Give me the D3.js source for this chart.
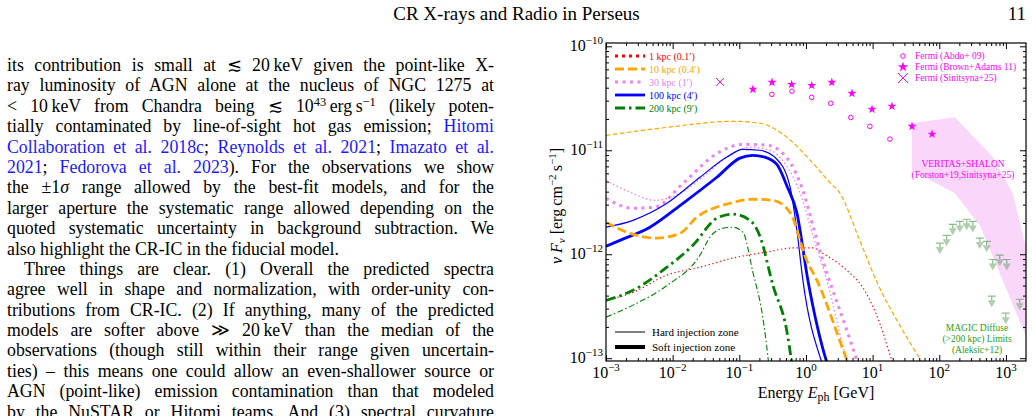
<!DOCTYPE html>
<html>
<head>
<meta charset="utf-8">
<script src="https://cdn.jsdelivr.net/npm/d3@7/dist/d3.min.js"></script>
<style>
  body { margin: 0; background: #fff; }
  #page { position: relative; width: 1033px; height: 416px; overflow: hidden; font-family: "Liberation Serif", "Times New Roman", serif; color: #000; }
  #header { position: absolute; left: 0; top: 3px; width: 1033px; text-align: center; font-size: 19px; line-height: 22px; }
  #pageno { position: absolute; right: 7px; top: 3px; font-size: 19px; line-height: 22px; }
  #col { position: absolute; left: 7px; top: 55px; width: 487px; font-size: 17.8px; line-height: 20.4px; }
  .ln { white-space: nowrap; height: 20.4px; }
  .cite { color: #1a1aff; }
  sup { font-size: 70%; line-height: 0; vertical-align: 0; position: relative; top: -0.5em; }
  svg { position: absolute; left: 0; top: 0; }
</style>
</head>
<body>
<div id="page"></div>
<script>
// values: energy [GeV], nu F_nu [erg cm^-2 s^-1]
const kpc1 = [[1e-3,3.6e-13],[2.54e-3,4.3e-13],[8.2e-3,6.3e-13],[0.0257,7.5e-13],[0.08,9.2e-13],[0.26,1.05e-12],[0.64,1.15e-12],[1.27,1.15e-12],[1.79,1.02e-12],[4.1,7.0e-13],[7.1,4.8e-13],[12.8,2.17e-13],[19.4,9.5e-14],[22,7.5e-14]];
const kpc10Hard = [[1e-3,1.39e-11],[8.2e-3,1.66e-11],[0.08,1.9e-11],[0.204,1.82e-11],[0.52,1.33e-11],[1.27,7.5e-12],[2.28,4.9e-12],[3.2,3.9e-12],[6.4,1.36e-12],[12,5.15e-13],[25.6,2.07e-13],[55,9.3e-14],[65,8e-14]];
const kpc10Soft = [[1e-3,2.03e-12],[2.29e-3,1.59e-12],[5.8e-3,1.43e-12],[0.0129,1.59e-12],[0.0231,2.27e-12],[0.072,3.09e-12],[0.16,3.38e-12],[0.32,3.3e-12],[0.575,2.53e-12],[1.03,8.7e-13],[1.46,5.6e-13],[4.25,9.1e-14],[4.6,8e-14]];
const kpc30Hard = [[1e-3,5.15e-12],[2.29e-3,3.95e-12],[5.4e-3,3.3e-12],[0.0129,3.86e-12],[0.0305,5.75e-12],[0.072,8.95e-12],[0.144,1.07e-11],[0.29,1.0e-11],[0.48,7.5e-12],[0.84,3.7e-12],[1.27,1.52e-12],[2.06,5.6e-13],[4.25,9.1e-14],[4.6,8e-14]];
const kpc30Soft = [[1e-3,3.46e-12],[2.54e-3,2.77e-12],[5.4e-3,2.83e-12],[0.0143,4.8e-12],[0.046,9.3e-12],[0.113,1.14e-11],[0.26,1.12e-11],[0.52,8.4e-12],[0.9,4.1e-12],[1.27,1.9e-12],[1.79,8.7e-13],[2.44,4.8e-13],[4.1,1.86e-13],[5.8,9.5e-14],[6.3,8e-14]];
const kpc100Hard = [[1e-3,1.82e-12],[2.54e-3,2.12e-12],[8.2e-3,3.09e-12],[0.0257,5.5e-12],[0.065,8.6e-12],[0.113,1.02e-11],[0.2,1.0e-11],[0.366,8.2e-12],[0.575,4.5e-12],[0.73,1.7e-12],[0.9,5.6e-13],[1.73,9.1e-14],[1.85,8e-14]];
const kpc100Soft = [[1e-3,1.19e-12],[1.62e-3,1.36e-12],[4.57e-3,1.82e-12],[0.0143,3.09e-12],[0.046,5.5e-12],[0.102,8.4e-12],[0.16,8.95e-12],[0.24,8.6e-12],[0.366,7.3e-12],[0.52,4.5e-12],[0.73,2.5e-12],[1.07,5.6e-13],[2.06,9.1e-14],[2.2,8e-14]];
const kpc200Hard = [[1e-3,2.48e-13],[2.54e-3,3.24e-13],[8.2e-3,5.0e-13],[0.0257,9.8e-13],[0.0363,1.46e-12],[0.0568,1.78e-12],[0.08,1.82e-12],[0.113,1.63e-12],[0.16,6.7e-13],[0.226,2.43e-13],[0.27,1.0e-13],[0.28,8e-14]];
const kpc200Soft = [[1e-3,3.6e-13],[2.54e-3,4.5e-13],[8.2e-3,7.5e-13],[0.0201,1.22e-12],[0.046,2.22e-12],[0.08,2.43e-12],[0.144,2.12e-12],[0.204,1.49e-12],[0.32,5.0e-13],[0.52,1.78e-13],[0.62,8.5e-14]];

const fermiAbdoE = [0.308, 0.616, 1.22, 2.35, 4.7, 9.1, 18.2];
const fermiAbdoF = [3.45e-11, 3.7e-11, 3.23e-11, 2.83e-11, 2.07e-11, 1.7e-11, 1.28e-11];
const fermiBrownE = [0.16, 0.31, 0.61, 1.22, 2.44, 4.9, 9.8, 19.5, 39, 78];
const fermiBrownF = [3.86e-11, 4.5e-11, 4.3e-11, 4.2e-11, 4.5e-11, 3.53e-11, 2.48e-11, 2.65e-11, 1.7e-11, 1.43e-11];
const fermiSinE = [0.0512];
const fermiSinF = [4.54e-11];

const veritasUpper = [[38.7,1.82e-11],[171,2.08e-11],[634,8.6e-12],[1265,3.86e-12],[1610,2.03e-12],[2275,8.4e-13]];
const veritasLower = [[38.7,6.43e-12],[171,3.86e-12],[405,1.9e-12],[895,5.6e-13],[2275,1.33e-13]];

const magicE = [102, 129, 159, 203, 258, 318, 405, 515, 634, 807, 1030, 612, 994, 1610];
const magicF = [1.28e-12, 1.52e-12, 1.94e-12, 2.07e-12, 2.17e-12, 2.07e-12, 1.43e-12, 1.33e-12, 8.9e-13, 9.8e-13, 8.9e-13, 3.95e-13, 2.71e-13, 3.69e-13];

const xTicks = [1e-3, 1e-2, 1e-1, 1e0, 1e1, 1e2, 1e3];
const yTicks = [1e-13, 1e-12, 1e-11, 1e-10];

const legendNames = ['1 kpc (0.1\u2032)', '10 kpc (0.4\u2032)', '30 kpc (1\u2032)', '100 kpc (4\u2032)', '200 kpc (9\u2032)'];
const fermiNames = ['Fermi (Abdo+ 09)', 'Fermi (Brown+Adams 11)', 'Fermi (Sinitsyna+25)'];

const textLines = [
  'its contribution is small at \u2272 20\u202FkeV given the point-like X-',
  'ray luminosity of AGN alone at the nucleus of NGC 1275 at',
  '&lt; 10\u202FkeV from Chandra being \u2272 10<sup>43</sup>\u202Ferg\u202Fs<sup>\u22121</sup> (likely poten-',
  'tially contaminated by line-of-sight hot gas emission; <span class="cite">Hitomi</span>',
  '<span class="cite">Collaboration et al. 2018c</span>; <span class="cite">Reynolds et al. 2021</span>; <span class="cite">Imazato et al.</span>',
  '<span class="cite">2021</span>; <span class="cite">Fedorova et al. 2023</span>). For the observations we show',
  'the \u00B11<i>\u03C3</i> range allowed by the best-fit models, and for the',
  'larger aperture the systematic range allowed depending on the',
  'quoted systematic uncertainty in background subtraction. We',
  'also highlight the CR-IC in the fiducial model.',
  'Three things are clear. (1) Overall the predicted spectra',
  'agree well in shape and normalization, with order-unity con-',
  'tributions from CR-IC. (2) If anything, many of the predicted',
  'models are softer above \u226B 20\u202FkeV than the median of the',
  'observations (though still within their range given uncertain-',
  'ties) \u2013 this means one could allow an even-shallower source or',
  'AGN (point-like) emission contamination than that modeled',
  'by the NuSTAR or Hitomi teams. And (3) spectral curvature'
];

const page = d3.select('#page');
page.append('div').attr('id', 'header').text('CR X-rays and Radio in Perseus');
page.append('div').attr('id', 'pageno').text('11');

// justified column: spread each line to the column width by word spacing
const colWidth = 487;
page.append('div').attr('id', 'col')
  .selectAll('div')
  .data(textLines)
  .join('div')
  .attr('class', 'ln')
  .style('padding-left', (d, i) => i === 10 ? '17px' : '0px')
  .append('span')
  .html(d => d)
  .each(function (d, i) {
    if (i === 9) return;
    const avail = colWidth - (i === 10 ? 17 : 0);
    const natural = this.getBoundingClientRect().width;
    const spaces = (this.textContent.match(/ /g) || []).length;
    if (spaces) this.style.wordSpacing = ((avail - natural) / spaces) + 'px';
  });

// ---- chart ----
const box = { left: 606, right: 1026, top: 43, bottom: 361 };
const x = d3.scaleLog().domain([1e-3, 2e3]).range([box.left, box.right]);
const y = d3.scaleLog().domain([9.4e-14, 1.076e-10]).range([box.bottom, box.top]);

const svg = page.append('svg').attr('width', 1033).attr('height', 416)
  .attr('font-family', '"Liberation Serif", "Times New Roman", serif');

svg.append('defs').append('clipPath').attr('id', 'clip')
  .append('rect')
  .attr('x', box.left).attr('y', box.top)
  .attr('width', box.right - box.left).attr('height', box.bottom - box.top);

const plotG = svg.append('g').attr('clip-path', 'url(#clip)');

// VERITAS+SHALON band
const bandPts = veritasUpper.concat(veritasLower.slice().reverse());
plotG.append('path')
  .attr('d', d3.line().x(d => x(d[0])).y(d => y(d[1]))(bandPts) + 'Z')
  .attr('fill', '#ee82ee').attr('fill-opacity', 0.32);

const line = d3.line().x(d => x(d[0])).y(d => y(d[1])).curve(d3.curveMonotoneX);

const models = [
  { data: kpc10Hard, color: '#ffa500', width: 1.2, dash: '4.5,2.5' },
  { data: kpc1, color: '#ff0000', width: 1.2, dash: '1.3,2.6' },
  { data: kpc30Hard, color: '#ee82ee', width: 1.4, dash: '1.4,2.6' },
  { data: kpc30Soft, color: '#ee82ee', width: 3, dash: '3,4.5' },
  { data: kpc100Hard, color: '#0000ff', width: 1.2, dash: null },
  { data: kpc100Soft, color: '#0000ff', width: 2.8, dash: null },
  { data: kpc10Soft, color: '#ffa500', width: 2.8, dash: '9,4' },
  { data: kpc200Hard, color: '#008000', width: 1.1, dash: '6,2.5,1.5,2.5' },
  { data: kpc200Soft, color: '#008000', width: 2.8, dash: '10,4,2.5,4' }
];

plotG.selectAll('path.model')
  .data(models)
  .join('path')
  .attr('class', 'model')
  .attr('d', d => line(d.data))
  .attr('fill', 'none')
  .attr('stroke', d => d.color)
  .attr('stroke-width', d => d.width)
  .attr('stroke-dasharray', d => d.dash);

// Fermi points
const magenta = '#ff00ff';
plotG.selectAll('circle.abdo')
  .data(d3.zip(fermiAbdoE, fermiAbdoF))
  .join('circle')
  .attr('class', 'abdo')
  .attr('cx', d => x(d[0])).attr('cy', d => y(d[1])).attr('r', 2.3)
  .attr('fill', 'none').attr('stroke', magenta).attr('stroke-width', 1);

const star = d3.symbol().type(d3.symbolStar);
plotG.selectAll('path.brown')
  .data(d3.zip(fermiBrownE, fermiBrownF))
  .join('path')
  .attr('class', 'brown')
  .attr('transform', d => `translate(${x(d[0])},${y(d[1])})`)
  .attr('d', star.size(26)())
  .attr('fill', magenta);

const cross = s => `M${-s},${-s}L${s},${s}M${-s},${s}L${s},${-s}`;
plotG.selectAll('path.sin')
  .data(d3.zip(fermiSinE, fermiSinF))
  .join('path')
  .attr('class', 'sin')
  .attr('transform', d => `translate(${x(d[0])},${y(d[1])})`)
  .attr('d', cross(4))
  .attr('stroke', magenta).attr('stroke-width', 1).attr('fill', 'none');

// MAGIC upper limits
const ul = plotG.selectAll('g.ul')
  .data(d3.zip(magicE, magicF))
  .join('g')
  .attr('class', 'ul')
  .attr('transform', d => `translate(${x(d[0])},${y(d[1])})`)
  .attr('opacity', 0.55);
ul.append('path').attr('d', 'M-4,0H4M0,0V6').attr('stroke', '#2e8b2e').attr('stroke-width', 1.2);
ul.append('path').attr('d', 'M-4,4L4,4L0,11Z').attr('fill', '#6fa86f');

// axes: inward ticks on all sides
const xMinor = [];
for (let e = -3; e <= 3; e++) for (let m = 2; m <= 9; m++) {
  const v = m * Math.pow(10, e);
  if (v < 2e3) xMinor.push(v);
}
const yMinor = [];
for (let e = -14; e <= -11; e++) for (let m = 2; m <= 9; m++) {
  const v = m * Math.pow(10, e);
  if (v > 9.4e-14 && v < 1.076e-10) yMinor.push(v);
}

function tickAxis(axisFn, scale, values, size, transform) {
  const g = svg.append('g').attr('transform', transform)
    .call(axisFn(scale).tickValues(values).tickSize(-size).tickSizeOuter(0).tickFormat(''));
  g.select('.domain').remove();
  g.selectAll('line').attr('stroke', '#000').attr('stroke-width', 1);
}
tickAxis(d3.axisBottom, x, xTicks, 6, `translate(0,${box.bottom})`);
tickAxis(d3.axisBottom, x, xMinor, 3, `translate(0,${box.bottom})`);
tickAxis(d3.axisTop, x, xTicks, 6, `translate(0,${box.top})`);
tickAxis(d3.axisTop, x, xMinor, 3, `translate(0,${box.top})`);
tickAxis(d3.axisLeft, y, yTicks, 6, `translate(${box.left},0)`);
tickAxis(d3.axisLeft, y, yMinor, 3, `translate(${box.left},0)`);
tickAxis(d3.axisRight, y, yTicks, 6, `translate(${box.right},0)`);
tickAxis(d3.axisRight, y, yMinor, 3, `translate(${box.right},0)`);

svg.append('rect')
  .attr('x', box.left).attr('y', box.top)
  .attr('width', box.right - box.left).attr('height', box.bottom - box.top)
  .attr('fill', 'none').attr('stroke', '#000').attr('stroke-width', 1.2);

function powerLabel(t, v) {
  const e = Math.round(Math.log10(v));
  t.append('tspan').text('10');
  t.append('tspan').attr('dy', -7).attr('font-size', 11).text(e < 0 ? '\u2212' + (-e) : String(e));
}
svg.append('g').selectAll('text')
  .data(xTicks)
  .join('text')
  .attr('x', d => x(d)).attr('y', 378)
  .attr('text-anchor', 'middle').attr('font-size', 16)
  .each(function (d) { powerLabel(d3.select(this), d); });
svg.append('g').selectAll('text')
  .data(yTicks)
  .join('text')
  .attr('x', 603).attr('y', d => y(d) + 5)
  .attr('text-anchor', 'end').attr('font-size', 16)
  .each(function (d) { powerLabel(d3.select(this), d); });

// axis titles
const xl = svg.append('text').attr('x', 816).attr('y', 398).attr('text-anchor', 'middle').attr('font-size', 16);
xl.append('tspan').text('Energy ');
xl.append('tspan').attr('font-style', 'italic').text('E');
xl.append('tspan').attr('dy', 3).attr('font-size', 12).text('ph');
xl.append('tspan').attr('dy', -3).text(' [GeV]');

const yl = svg.append('text').attr('transform', 'translate(562,206) rotate(-90)')
  .attr('text-anchor', 'middle').attr('font-size', 16);
yl.append('tspan').attr('font-style', 'italic').text('\u03BD F');
yl.append('tspan').attr('dy', 3).attr('font-size', 11).attr('font-style', 'italic').text('\u03BD');
yl.append('tspan').attr('dy', -3).text(' [erg\u2009cm');
yl.append('tspan').attr('dy', -6).attr('font-size', 11).text('\u22122');
yl.append('tspan').attr('dy', 6).text('\u2009s');
yl.append('tspan').attr('dy', -6).attr('font-size', 11).text('\u22121');
yl.append('tspan').attr('dy', 6).text(']');

// model legend
const legendStyles = [
  { color: '#ff0000', width: 3, dash: '3,4' },
  { color: '#ffa500', width: 2.8, dash: '9,4' },
  { color: '#ee82ee', width: 3, dash: '3,4.5' },
  { color: '#0000ff', width: 2.8, dash: null },
  { color: '#008000', width: 2.8, dash: '10,4,2.5,4' }
];
const leg = svg.append('g').selectAll('g')
  .data(legendStyles)
  .join('g')
  .attr('transform', (d, i) => `translate(0,${56 + i * 13})`);
leg.append('line').attr('x1', 615).attr('x2', 645)
  .attr('stroke', d => d.color).attr('stroke-width', d => d.width).attr('stroke-dasharray', d => d.dash);
leg.append('text').attr('x', 649).attr('y', 3.5).attr('font-size', 10)
  .attr('fill', d => d.color).text((d, i) => legendNames[i]);

const zoneLeg = svg.append('g').selectAll('g')
  .data([{ name: 'Hard injection zone', width: 1 }, { name: 'Soft injection zone', width: 4 }])
  .join('g')
  .attr('transform', (d, i) => `translate(0,${332 + i * 15})`);
zoneLeg.append('line').attr('x1', 615).attr('x2', 645).attr('stroke', '#000').attr('stroke-width', d => d.width);
zoneLeg.append('text').attr('x', 652).attr('y', 4).attr('font-size', 11).text(d => d.name);

// Fermi legend
const fl = svg.append('g').attr('fill', magenta).attr('font-size', 9.5);
fl.append('circle').attr('cx', 903).attr('cy', 56).attr('r', 2.3).attr('fill', 'none').attr('stroke', magenta);
fl.append('path').attr('transform', 'translate(903,67)').attr('d', star.size(34)());
fl.append('path').attr('transform', 'translate(903,78)').attr('d', cross(5)).attr('stroke', magenta).attr('fill', 'none');
fl.selectAll('text').data(fermiNames).join('text')
  .attr('x', 915).attr('y', (d, i) => 59 + i * 11).text(d => d);

// annotations
svg.append('g').attr('fill', magenta).attr('font-size', 9.5).attr('text-anchor', 'middle')
  .selectAll('text').data(['VERITAS+SHALON', '(Forston+19,Sinitsyna+25)']).join('text')
  .attr('x', 963).attr('y', (d, i) => 167 + i * 11).text(d => d);
svg.append('g').attr('fill', '#22a022').attr('font-size', 9.5).attr('text-anchor', 'middle')
  .selectAll('text').data(['MAGIC Diffuse', '(>200 kpc) Limits', '(Aleksic+12)']).join('text')
  .attr('x', 977).attr('y', (d, i) => 331 + i * 11).text(d => d);
</script>
</body>
</html>
